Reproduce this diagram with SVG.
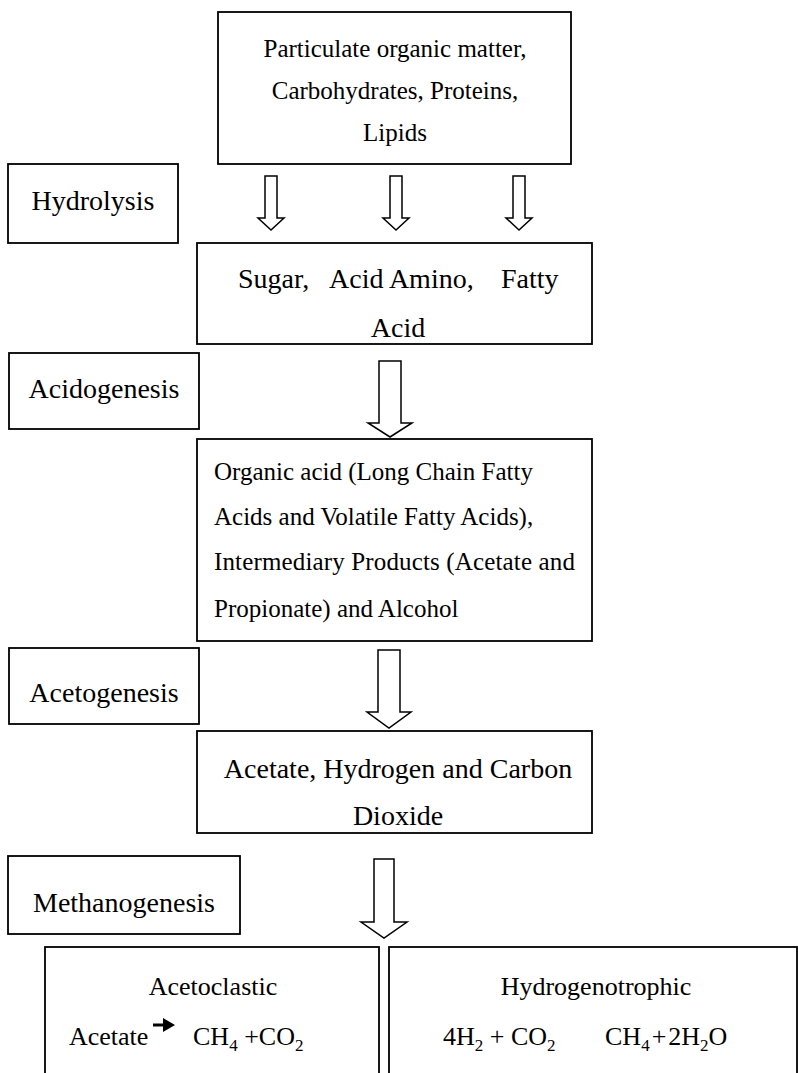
<svg xmlns="http://www.w3.org/2000/svg" width="798" height="1073" viewBox="0 0 798 1073">
<style>
.box{fill:#fff;stroke:#000;stroke-width:1.8}
.arr{fill:#fff;stroke:#000;stroke-width:1.5;stroke-linejoin:miter}
text{font-family:"Liberation Serif","Times New Roman",serif;fill:#000}
.t25{font-size:25px}
.t28{font-size:28px}
.t26{font-size:26px}
.c{text-anchor:middle}
.sub{font-size:17px}
</style>
<rect width="798" height="1073" fill="#fff"/>
<g id="connectors">
<polygon class="arr" points="265,176 277,176 277,218 284,218 271,230 258,218 265,218"/>
<polygon class="arr" points="390,176 402,176 402,218 409,218 396,230 383,218 390,218"/>
<polygon class="arr" points="513,176 525,176 525,218 532,218 519,230 506,218 513,218"/>
<polygon class="arr" points="379,361 401,361 401,423 412,423 390,437 368,423 379,423"/>
<polygon class="arr" points="378,650 400,650 400,712 411,712 389,728 367,712 378,712"/>
<polygon class="arr" points="374,859 394,859 394,922 407,922 384,938 361,922 374,922"/>
</g>
<g id="n-input">
<rect class="box" x="218" y="12" width="353" height="152"/>
<text class="t25 c" x="395" y="57">Particulate organic matter,</text>
<text class="t25 c" x="395" y="99">Carbohydrates, Proteins,</text>
<text class="t25 c" x="395" y="141">Lipids</text>
</g>
<g id="n-hydrolysis">
<rect class="box" x="8" y="164" width="170" height="79"/>
<text class="t28 c" x="93" y="210">Hydrolysis</text>
</g>
<g id="n-monomers">
<rect class="box" x="197" y="243" width="395" height="101"/>
<text class="t28" x="238" y="288">Sugar,</text>
<text class="t28" x="329" y="288">Acid Amino,</text>
<text class="t28" x="501" y="288">Fatty</text>
<text class="t28 c" x="398" y="337">Acid</text>
</g>
<g id="n-acidogenesis">
<rect class="box" x="9" y="353" width="190" height="76"/>
<text class="t28 c" x="104" y="398">Acidogenesis</text>
</g>
<g id="n-organic">
<rect class="box" x="197" y="439" width="395" height="202"/>
<text class="t25" x="214" y="480">Organic acid (Long Chain Fatty</text>
<text class="t25" x="214" y="525">Acids and Volatile Fatty Acids),</text>
<text class="t25" x="214" y="570" textLength="361">Intermediary Products (Acetate and</text>
<text class="t25" x="214" y="617">Propionate) and Alcohol</text>
</g>
<g id="n-acetogenesis">
<rect class="box" x="9" y="648" width="190" height="76"/>
<text class="t28 c" x="104" y="702">Acetogenesis</text>
</g>
<g id="n-acetate">
<rect class="box" x="197" y="731" width="395" height="102"/>
<text class="t28 c" x="398" y="778">Acetate, Hydrogen and Carbon</text>
<text class="t28 c" x="398" y="825">Dioxide</text>
</g>
<g id="n-methanogenesis">
<rect class="box" x="8" y="856" width="232" height="78"/>
<text class="t28 c" x="124" y="912">Methanogenesis</text>
</g>
<g id="n-acetoclastic">
<rect class="box" x="45" y="947" width="334" height="140"/>
<text class="t26 c" x="213" y="995">Acetoclastic</text>
<text class="t26" x="69" y="1045">Acetate</text>
<line x1="153" y1="1025" x2="166" y2="1025" stroke="#000" stroke-width="3"/>
<polygon points="163,1018 175,1025 163,1032" fill="#000"/>
<text class="t26" x="193" y="1045">CH<tspan class="sub" dy="6">4</tspan><tspan dy="-6"> +CO</tspan><tspan class="sub" dy="6">2</tspan></text>
</g>
<g id="n-hydrogenotrophic">
<rect class="box" x="389" y="947" width="408" height="140"/>
<text class="t26 c" x="596" y="995">Hydrogenotrophic</text>
<text class="t26" x="443" y="1045">4H<tspan class="sub" dy="6">2</tspan><tspan dy="-6"> + CO</tspan><tspan class="sub" dy="6">2</tspan></text>
<text class="t26" x="605" y="1045">CH<tspan class="sub" dy="6">4</tspan><tspan dy="-6" dx="2">+</tspan><tspan dx="2">2H</tspan><tspan class="sub" dy="6">2</tspan><tspan dy="-6">O</tspan></text>
</g>
</svg>
